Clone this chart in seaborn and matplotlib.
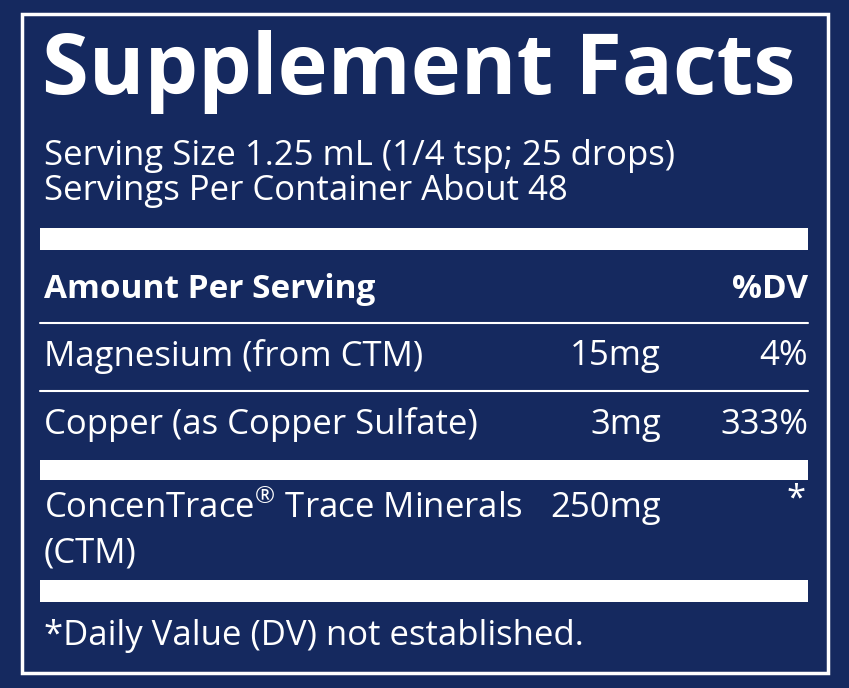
import matplotlib
matplotlib.use("Agg")
import matplotlib.pyplot as plt
import seaborn as sns

sns.set_theme(style="white")
plt.rcParams['font.family'] = ['Open Sans', 'DejaVu Sans']
plt.rcParams['mathtext.fontset'] = 'custom'
plt.rcParams['mathtext.rm'] = 'Open Sans'

NAVY = "#15295f"

title = "Supplement Facts"
serving_lines = ["Serving Size 1.25 mL (1/4 tsp; 25 drops)",
                 "Servings Per Container About 48"]
header = ["Amount Per Serving", "%DV"]
nutrients = ["Magnesium (from CTM)", "Copper (as Copper Sulfate)"]
amounts = ["15mg", "3mg"]
dvs = ["4%", "333%"]
blend_name = ["ConcenTrace$^{\u00ae}$ Trace Minerals", "(CTM)"]
blend_amount = "250mg"
blend_dv = "*"
footnote = "*Daily Value (DV) not established."

fig = plt.figure(figsize=(8.49, 6.88), dpi=100)
fig.patch.set_facecolor(NAVY)
ax = fig.add_axes([0, 0, 1, 1])
ax.set_facecolor(NAVY)
ax.set_xlim(0, 849)
ax.set_ylim(688, 0)
ax.axis("off")

# outer border
ax.add_patch(plt.Rectangle((22, 14), 806, 659, fill=False, ec="white", lw=2.5))

L, R, AMT = 44, 808, 661
txt = dict(color="white", va="center")

ax.text(L - 2, 72, title, fontsize=61, fontweight="bold", **txt)
ax.text(L, 156, serving_lines[0], fontsize=25, **txt)
ax.text(L, 191, serving_lines[1], fontsize=25, **txt)

def bar(y0, y1):
    ax.add_patch(plt.Rectangle((40, y0), 768, y1 - y0, color="white", lw=0))

def line(y):
    ax.plot([40, 808], [y, y], color="white", lw=1.5)

bar(228, 250)
ax.text(L, 290, header[0], fontsize=24, fontweight="bold", **txt)
ax.text(R, 290, header[1], fontsize=24, fontweight="bold", ha="right", **txt)
line(323)

row_y = [356, 425]
for i, (n, a, d) in enumerate(zip(nutrients, amounts, dvs)):
    ax.text(L, row_y[i], n, fontsize=25, **txt)
    ax.text(AMT, row_y[i], a, fontsize=25, ha="right", **txt)
    ax.text(R, row_y[i], d, fontsize=25, ha="right", **txt)
line(391)

bar(460, 480)
ax.text(L, 508, blend_name[0], fontsize=25, **txt)
ax.text(L, 553, blend_name[1], fontsize=25, **txt)
ax.text(AMT, 508, blend_amount, fontsize=25, ha="right", **txt)
ax.text(R - 2, 500, blend_dv, fontsize=25, ha="right", **txt)

bar(580, 602)
ax.text(L, 636, footnote, fontsize=25, **txt)

fig.savefig("out.png", dpi=100, facecolor=NAVY)
